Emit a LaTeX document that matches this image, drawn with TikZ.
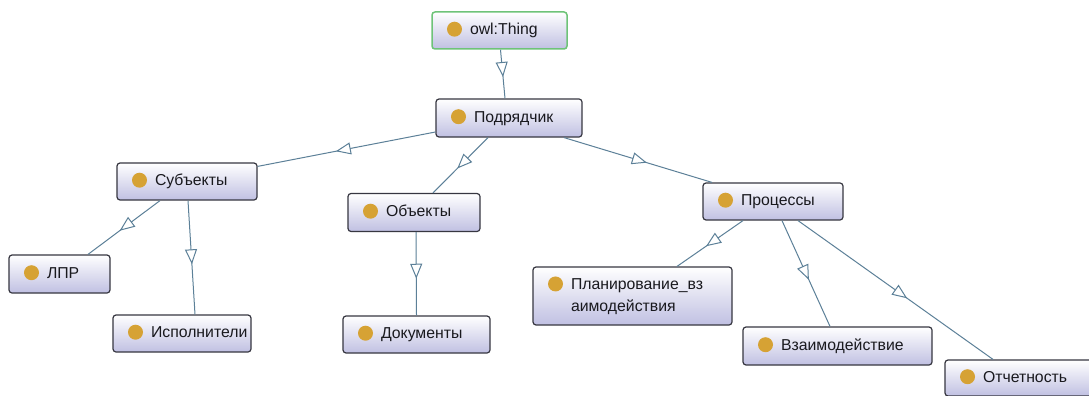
\documentclass[tikz,border=0pt]{standalone}
\usepackage{fontspec}
\setmainfont{Liberation Sans}
\usetikzlibrary{arrows.meta,decorations.markings,calc}
\definecolor{edgec}{RGB}{92,128,152}
\definecolor{boxborder}{RGB}{55,55,65}
\definecolor{thingborder}{RGB}{110,195,120}
\definecolor{boxbottom}{RGB}{192,192,226}
\definecolor{dotc}{RGB}{214,162,52}
\definecolor{textc}{RGB}{25,25,30}
\newcommand\owldot{\tikz[baseline={(0pt,-5.6pt)}]\fill[dotc] (0pt,0pt) circle (7.5pt);}
\newcommand\owllabel[1]{\begin{tabular}{@{}c@{\hspace{8pt}}l@{}}\owldot & #1\end{tabular}}
\tikzset{
  owlbox/.style={rectangle, rounded corners=3pt, draw=boxborder, line width=1.2pt,
    top color=white, bottom color=boxbottom, inner xsep=15pt, inner ysep=0pt,
    align=left, text=textc, font=\fontsize{15.8}{21.5}\selectfont},
  thingbox/.style={owlbox, draw=thingborder, line width=1.5pt},
  subedge/.style={draw=edgec, line width=1pt,
    postaction={decorate, decoration={markings,
      mark=at position 0.56 with {\arrow[edgec, line width=1pt]{Triangle[open, fill=white, length=15pt, width=12pt]}}}}}
}
\begin{document}
\begin{tikzpicture}[x=1pt, y=-1pt]
\fill[white] (0,0) rectangle (1089,396);
\useasboundingbox (0,0) rectangle (1089,396);

\node[thingbox, text width=105pt, minimum height=37pt] (thing) at (499.5,30.5) {\owllabel{owl:Thing}};
\node[owlbox, text width=116pt, minimum height=38pt] (pod) at (509,118) {\owllabel{Подрядчик}};
\node[owlbox, text width=110pt, minimum height=37pt] (subj) at (187,181.5) {\owllabel{Субъекты}};
\node[owlbox, text width=102pt, minimum height=38pt] (obj) at (414,212.5) {\owllabel{Объекты}};
\node[owlbox, text width=110pt, minimum height=37pt] (proc) at (773,201.5) {\owllabel{Процессы}};
\node[owlbox, text width=71pt, minimum height=38pt] (lpr) at (59.5,274) {\owllabel{ЛПР}};
\node[owlbox, text width=108pt, minimum height=37pt] (isp) at (182,333.5) {\owllabel{Исполнители}};
\node[owlbox, text width=117pt, minimum height=37pt] (doc) at (416.5,334.5) {\owllabel{Документы}};
\node[owlbox, text width=169pt, minimum height=58pt] (plan) at (632.5,296) {\owllabel{Планирование\_вз\\ & аимодействия}};
\node[owlbox, text width=159pt, minimum height=38pt] (vz) at (837.5,346) {\owllabel{Взаимодействие}};
\node[owlbox, text width=130pt, minimum height=36pt] (otch) at (1025,378) {\owllabel{Отчетность}};

\path[subedge] ([xshift=1pt]thing.south) -- ([xshift=-4pt]pod.north);
\path[subedge] ([yshift=-14pt]pod.west) -- ([yshift=-4pt]subj.north east);
\path[subedge] ([xshift=-21pt]pod.south) -- ([xshift=19pt]obj.north);
\path[subedge] ([xshift=55pt]pod.south) -- ([xshift=-61pt]proc.north);
\path[subedge] ([xshift=-27pt]subj.south) -- ([xshift=28.5pt]lpr.north);
\path[subedge] ([xshift=1pt]subj.south) -- ([xshift=13pt]isp.north);
\path[subedge] ([xshift=2pt]obj.south) -- (doc.north);
\path[subedge] ([xshift=-30pt]proc.south) -- ([xshift=44.5pt]plan.north);
\path[subedge] ([xshift=9pt]proc.south) -- ([xshift=-7.5pt]vz.north);
\path[subedge] ([xshift=25pt]proc.south) -- ([xshift=-32pt]otch.north);
\end{tikzpicture}
\end{document}
